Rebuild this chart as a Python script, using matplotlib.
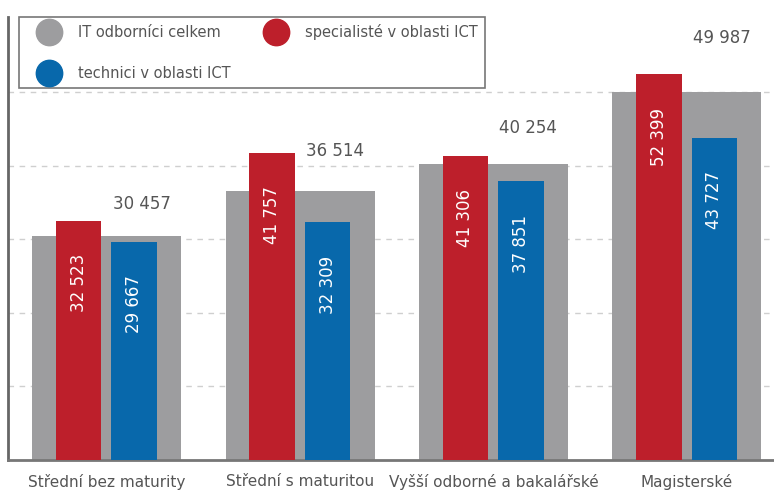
import numpy as np
import matplotlib.pyplot as plt
from matplotlib.lines import Line2D

# Data
categories = ['Střední bez maturity', 'Střední s maturitou', 'Vyšší odborné a bakalářské', 'Magisterské']
it_total = [30457, 36514, 40254, 49987]
specialists = [32523, 41757, 41306, 52399]
technicians = [29667, 32309, 37851, 43727]

GREY = '#9d9d9f'
RED = '#bd1f2b'
BLUE = '#0868ab'
TEXT = '#555555'

def fmt(v):
    return f'{v:,}'.replace(',', ' ')

fig = plt.figure(figsize=(7.74, 4.94), dpi=100)
ax = fig.add_axes([0.0103, 0.0688, 0.9897, 0.897])

x = np.arange(len(categories))
ax.bar(x, it_total, width=0.77, color=GREY, zorder=2)
ax.bar(x - 0.145, specialists, width=0.235, color=RED, zorder=3)
ax.bar(x + 0.142, technicians, width=0.235, color=BLUE, zorder=3)

# value labels for total (offset in points above the grey bar)
total_offsets = [23, 29, 26, 39]
for xi, v, off in zip(x, it_total, total_offsets):
    ax.annotate(fmt(v), (xi + 0.18, v), xytext=(0, off), textcoords='offset points',
                ha='center', va='center', fontsize=12, color=TEXT)

# rotated labels inside coloured bars
for xi, v in zip(x, specialists):
    ax.annotate(fmt(v), (xi - 0.145, v), xytext=(0, -24), textcoords='offset points',
                ha='center', va='top', rotation=90, fontsize=12, color='white', zorder=4)
for xi, v in zip(x, technicians):
    ax.annotate(fmt(v), (xi + 0.142, v), xytext=(0, -24), textcoords='offset points',
                ha='center', va='top', rotation=90, fontsize=12, color='white', zorder=4)

ax.set_xlim(-0.51, 3.45)
ax.set_ylim(0, 60200)
ax.set_yticks([10000, 20000, 30000, 40000, 50000])
ax.set_yticklabels([])
ax.tick_params(axis='y', length=0)
ax.set_xticks(x)
ax.set_xticklabels(categories, fontsize=11, color=TEXT)
ax.tick_params(axis='x', length=0, pad=10)
ax.grid(axis='y', color='#cfcfcf', linestyle=(0, (4, 4)), linewidth=1, zorder=0)

for s in ['top', 'right']:
    ax.spines[s].set_visible(False)
ax.spines['left'].set_color('#666666')
ax.spines['left'].set_linewidth(2)
ax.spines['bottom'].set_color('#777777')
ax.spines['bottom'].set_linewidth(2)

handles = [
    Line2D([], [], marker='o', linestyle='', markersize=19, color=GREY, label='IT odborníci celkem'),
    Line2D([], [], marker='o', linestyle='', markersize=19, color=BLUE, label='technici v oblasti ICT'),
    Line2D([], [], marker='o', linestyle='', markersize=19, color=RED, label='specialisté v oblasti ICT'),
]
leg = ax.legend(handles=handles, ncol=2, loc='upper left', bbox_to_anchor=(0.015, 1.0),
                frameon=True, fancybox=False, edgecolor='#555555', fontsize=10.5,
                labelcolor=TEXT, handlelength=3.0, handletextpad=0.5, columnspacing=1.6,
                labelspacing=1.75, borderpad=0.5, borderaxespad=0.0)
leg.get_frame().set_linewidth(1.2)

fig.savefig('out.png', dpi=100)
